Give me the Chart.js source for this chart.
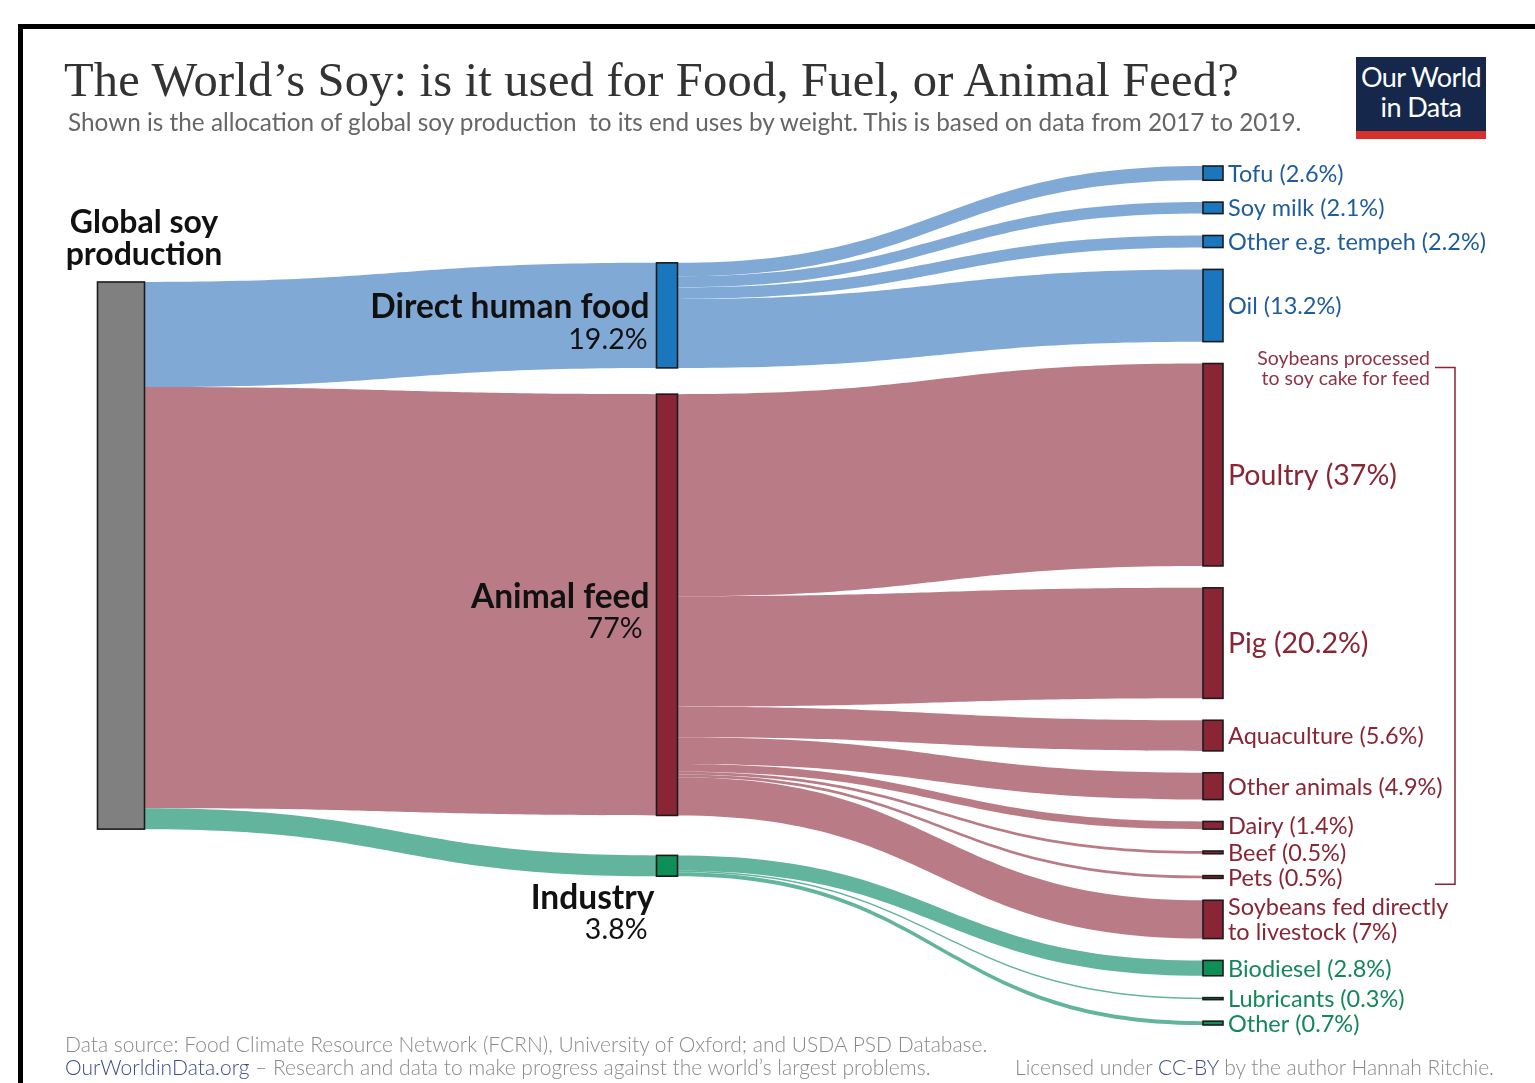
<!DOCTYPE html>
<html>
<head>
<meta charset="utf-8">
<script src="https://cdn.jsdelivr.net/npm/chart.js@4"></script>
<style>
	html, body { margin: 0; padding: 0; background: #fff; overflow: hidden; }
	body { width: 1535px; height: 1083px; position: relative; font-family: Lato, 'Noto Sans', sans-serif; }
	#marco { position: absolute; left: 18px; top: 24px; width: 1600px; height: 1200px; border: 5px solid #000; box-sizing: border-box; pointer-events: none; }
	#grafico_sankey { position: absolute; left: 0; top: 0; }
	#titulo { position: absolute; left: 64px; top: 52px; font-family: 'Liberation Serif', 'DejaVu Serif', serif; font-size: 48.5px; color: #333; white-space: nowrap; letter-spacing: 0.2px; }
	#subtitulo { position: absolute; left: 68px; top: 107px; font-size: 24.3px; color: #666; white-space: pre; }
	#logo { position: absolute; left: 1356px; top: 57px; width: 130px; height: 82px; background: #15284b; border-bottom: 8px solid #d8302c; box-sizing: border-box; color: #fff; text-align: center; font-size: 27px; line-height: 30px; padding-top: 5px; letter-spacing: -0.6px; white-space: nowrap; }
	.pie { position: absolute; font-size: 21px; color: #8a8a8a; font-weight: 300; white-space: nowrap; }
	.azul { color: #3f4c8e; }
</style>
</head>
<body>
<canvas id="grafico_sankey" width="1535" height="1083"></canvas>
<div id="titulo">The World’s Soy: is it used for Food, Fuel, or Animal Feed?</div>
<div id="subtitulo">Shown is the allocation of global soy production  to its end uses by weight. This is based on data from 2017 to 2019.</div>
<div id="logo">Our World<br>in Data</div>
<div class="pie" style="left:65px; top:1031px;">Data source: Food Climate Resource Network (FCRN), University of Oxford; and USDA PSD Database.</div>
<div class="pie" style="left:65px; top:1054px;"><span class="azul">OurWorldinData.org</span> – Research and data to make progress against the world’s largest problems.</div>
<div class="pie" style="right:41px; top:1054px;">Licensed under <span class="azul">CC-BY</span> by the author Hannah Ritchie.</div>
<div id="marco"></div>
<script>
//Datos
const origen = ['Global soy\nproduction']
const origenValores = [100]

const usos = ['Direct human food', 'Animal feed', 'Industry']
const usosValores = [19.2, 77, 3.8]

const destinos = ['Tofu', 'Soy milk', 'Other e.g. tempeh', 'Oil', 'Poultry', 'Pig', 'Aquaculture', 'Other animals',
	'Dairy', 'Beef', 'Pets', 'Soybeans fed directly\nto livestock', 'Biodiesel', 'Lubricants', 'Other']
const destinosValores = [2.6, 2.1, 2.2, 13.2, 37, 20.2, 5.6, 4.9, 1.4, 0.5, 0.5, 7, 2.8, 0.3, 0.7]
const destinosUso = [0, 0, 0, 0, 1, 1, 1, 1, 1, 1, 1, 1, 2, 2, 2]

//Colores por uso
const colorFlujo = ['#80aad5', '#b97c86', '#62b49c']
const colorNodo = ['#1a77bd', '#8a2535', '#0e8f58']
const colorTexto = ['#1f5c9c', '#8a2535', '#14875a']

//Disposicion vertical (unidades de la escala y)
const origenInicio = 21.2
const usosInicio = 17.7
const usosHuecos = [4.8, 7.3]
const destinosHueco = 4

const apilar = (valores, inicio, huecos) => {
	let y = inicio
	return valores.map((v, i) => {
		let tramo = [y, y + v]
		y += v + (Array.isArray(huecos) ? (huecos[i] || 0) : huecos)
		return tramo
	})
}

const posOrigen = apilar(origenValores, origenInicio, 0)
const posUsos = apilar(usosValores, usosInicio, usosHuecos)
const posDestinos = apilar(destinosValores, 0, destinosHueco)

const cinta = (ctx, x0, a0, b0, x1, a1, b1, color) => {
	let xm = (x0 + x1) / 2
	ctx.beginPath()
	ctx.moveTo(x0, a0)
	ctx.bezierCurveTo(xm, a0, xm, a1, x1, a1)
	ctx.lineTo(x1, b1)
	ctx.bezierCurveTo(xm, b1, xm, b0, x0, b0)
	ctx.closePath()
	ctx.fillStyle = color
	ctx.fill()
}

const nodo = (ctx, x, ancho, y0, y1, color) => {
	ctx.fillStyle = color
	ctx.fillRect(x - ancho / 2, y0, ancho, Math.max(y1 - y0, 2))
	ctx.lineWidth = 1.6
	ctx.strokeStyle = '#1b1b1b'
	ctx.strokeRect(x - ancho / 2, y0, ancho, Math.max(y1 - y0, 2))
}

const textoLineas = (ctx, lineas, x, yCentro, alto) => {
	let y = yCentro - (lineas.length - 1) * alto / 2
	lineas.forEach(l => { ctx.fillText(l, x, y); y += alto })
}

//Plugin que dibuja el sankey sobre las escalas
const sankeyPlugin = {
	id: 'sankey',
	beforeDatasetsDraw(chart) {
		const ctx = chart.ctx
		const sx = chart.scales.x
		const sy = chart.scales.y
		const px = v => sx.getPixelForValue(v)
		const py = v => sy.getPixelForValue(v)
		const anchoIzq = 47, anchoMed = 21, anchoDer = 20
		ctx.save()

		//Flujos origen -> usos
		let acum = posOrigen[0][0]
		usosValores.forEach((v, i) => {
			cinta(ctx, px(0) + anchoIzq / 2, py(acum), py(acum + v),
				px(1) - anchoMed / 2, py(posUsos[i][0]), py(posUsos[i][1]), colorFlujo[i])
			acum += v
		})

		//Flujos usos -> destinos
		usos.forEach((u, i) => {
			let hijos = destinosValores.map((v, j) => destinosUso[j] === i ? j : -1).filter(j => j >= 0)
			let suma = hijos.reduce((s, j) => s + destinosValores[j], 0)
			let escala = usosValores[i] / suma
			let y = posUsos[i][0]
			hijos.forEach(j => {
				let h = destinosValores[j] * escala
				cinta(ctx, px(1) + anchoMed / 2, py(y), py(y + h),
					px(2) - anchoDer / 2, py(posDestinos[j][0]), py(posDestinos[j][1]), colorFlujo[i])
				y += h
			})
		})

		//Nodos
		nodo(ctx, px(0), anchoIzq, py(posOrigen[0][0]), py(posOrigen[0][1]), '#808080')
		posUsos.forEach((p, i) => nodo(ctx, px(1), anchoMed, py(p[0]), py(p[1]), colorNodo[i]))
		posDestinos.forEach((p, j) => nodo(ctx, px(2), anchoDer, py(p[0]), py(p[1]), colorNodo[destinosUso[j]]))

		//Etiqueta origen
		ctx.fillStyle = '#111'
		ctx.textAlign = 'center'
		ctx.textBaseline = 'middle'
		ctx.font = 'bold 32px Lato'
		textoLineas(ctx, origen[0].split('\n'), px(0) + 23, py(posOrigen[0][0]) - 43, 32)

		//Etiquetas usos
		ctx.textAlign = 'right'
		usos.forEach((u, i) => {
			let xr = px(1) - anchoMed / 2 - 7
			let yc = i === 2 ? py(posUsos[i][1]) + 22 : (py(posUsos[i][0]) + py(posUsos[i][1])) / 2 - 8
			ctx.font = 'bold 33.5px Lato'
			ctx.fillText(u, xr + (i === 2 ? 5 : 0), yc)
			ctx.font = '28.5px Lato'
			ctx.fillText(usosValores[i] + '%', xr - (i === 1 ? 7 : 2), yc + 32)
		})

		//Etiquetas destinos
		ctx.textAlign = 'left'
		destinos.forEach((d, j) => {
			let texto = (d + ' (' + destinosValores[j] + '%)').split('\n')
			let grande = destinosValores[j] > 15
			ctx.font = (grande ? 28.5 : 23.5) + 'px Lato'
			ctx.fillStyle = colorTexto[destinosUso[j]]
			let yc = (py(posDestinos[j][0]) + py(posDestinos[j][1])) / 2 + 1
			if (j === 4) yc += 10
			textoLineas(ctx, texto, px(2) + anchoDer / 2 + 5, yc, 25)
		})

		//Corchete de soja procesada
		let yTop = py(posDestinos[4][0]) + 4
		let yBot = py(posDestinos[10][1]) + 6
		let xc = px(2) + 242
		ctx.strokeStyle = '#8a2535'
		ctx.lineWidth = 1.5
		ctx.beginPath()
		ctx.moveTo(xc - 20, yTop)
		ctx.lineTo(xc, yTop)
		ctx.lineTo(xc, yBot)
		ctx.lineTo(xc - 20, yBot)
		ctx.stroke()
		ctx.fillStyle = '#8f3447'
		ctx.font = '19.5px Lato'
		ctx.textAlign = 'right'
		ctx.fillText('Soybeans processed', xc - 25, yTop - 9)
		ctx.fillText('to soy cake for feed', xc - 25, yTop + 11)
		ctx.restore()
	}
}

//Generador del grafico
const generarSankey = () => {
	let canvas = document.getElementById('grafico_sankey')
	let sumaDestinos = posDestinos[posDestinos.length - 1][1]
	new Chart(canvas, {
		type: 'scatter',
		data: { datasets: [{ data: [], pointRadius: 0 }] },
		options: {
			responsive: false,
			animation: false,
			events: [],
			layout: { padding: { left: 121, right: 322, top: 166, bottom: 58 } },
			plugins: { legend: { display: false }, tooltip: { enabled: false }, title: { display: false } },
			scales: {
				x: { type: 'linear', min: 0, max: 2, display: false },
				y: { type: 'linear', min: 0, max: sumaDestinos, reverse: true, display: false }
			}
		},
		plugins: [sankeyPlugin]
	})
}

generarSankey()
</script>
</body>
</html>
